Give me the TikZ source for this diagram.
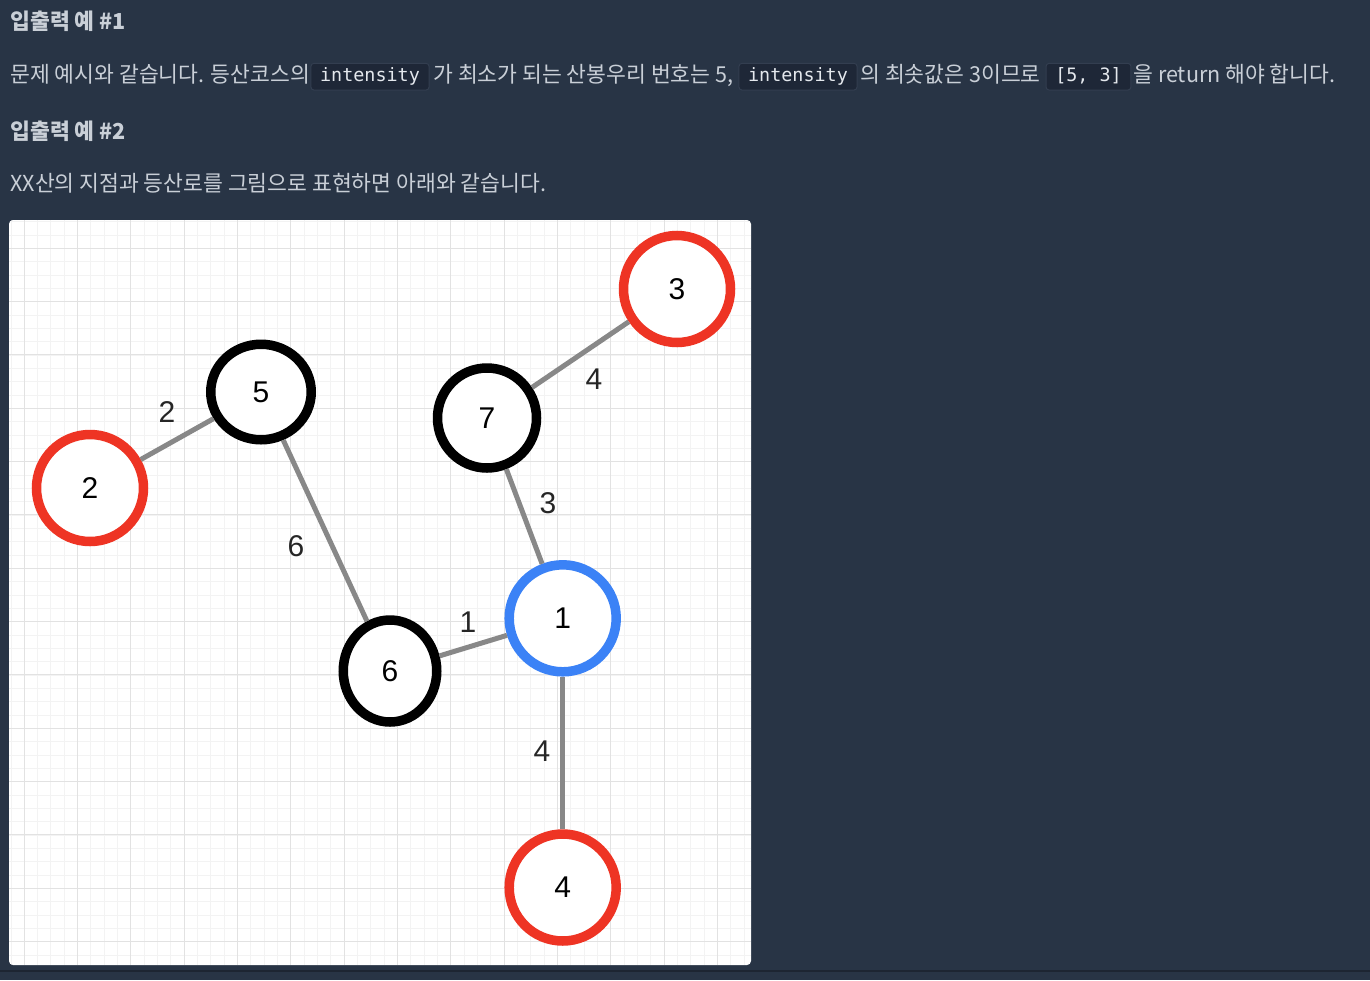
\documentclass[tikz,border=0pt]{standalone}
\usepackage{fontspec}
\setmainfont{Liberation Sans}
\newfontfamily\krfont[FakeStretch=0.98]{Noto Sans CJK KR}
\newfontfamily\codefont{DejaVu Sans Mono}
\usetikzlibrary{shapes.geometric}
\definecolor{pagebg}{HTML}{283445}
\definecolor{pageline}{HTML}{1D2532}
\definecolor{prosegray}{HTML}{C9CFD7}
\definecolor{codebg}{HTML}{1E2737}
\definecolor{codeline}{HTML}{333E50}
\definecolor{codetext}{HTML}{E4E8ED}
\definecolor{gridminor}{HTML}{F3F3F3}
\definecolor{gridmajor}{HTML}{E2E2E2}
\definecolor{trailgray}{HTML}{888888}
\definecolor{gatered}{HTML}{EE3424}
\definecolor{summitblue}{HTML}{3B82F6}
\tikzset{
    %Define style for text lines
    prose/.style={
           anchor=base west,
           inner sep=0pt,
           text=prosegray,
           font=\krfont\fontsize{11pt}{13pt}\selectfont},
    heading/.style={
           prose,
           font=\krfont\bfseries\fontsize{11pt}{13pt}\selectfont},
    codebox/.style={
           rectangle,
           rounded corners=1.5pt,
           fill=codebg, draw=codeline, line width=0.5pt,
           inner xsep=4.6pt, inner ysep=0pt,
           minimum height=13.35pt,
           text height=0.75em, text depth=0.25em,
           text=codetext,
           font=\codefont\fontsize{9.2pt}{11pt}\selectfont},
    %Define style for peaks
    peak/.style={
           ellipse,
           fill=white,
           draw=black, line width=4.75pt,
           minimum width=49pt,
           minimum height=49pt,
           inner sep=0pt,
           font=\fontsize{15pt}{18pt}\selectfont,
           text centered},
    gate/.style={
           peak,
           draw=gatered,
           minimum width=53.5pt,
           minimum height=53.5pt},
    summit/.style={
           peak,
           draw=summitblue,
           minimum width=53.5pt,
           minimum height=53.5pt},
    weight/.style={
           inner sep=0pt,
           text=black!85,
           font=\fontsize{15pt}{18pt}\selectfont},
    % Define trail style
    trail/.style={
           draw=trailgray,
           line width=2.5pt}
}
\begin{document}
\begin{tikzpicture}[x=0.5pt,y=-0.5pt]
\fill[pagebg] (0,0) rectangle (1370,980);
\useasboundingbox (0,0) rectangle (1370,980);
\draw[pageline, line width=1pt] (0,970.5) -- (1370,970.5);

 %text
\node[heading] (h1) at (10,29) {입출력 예 \#1};
\node[prose] (l1a) at (10,82) {문제 예시와 같습니다. 등산코스의};
\node[codebox] (c1) at (370,76.7) {intensity};
\node[prose] (l1b) at (433,82) {가 최소가 되는 산봉우리 번호는 5,};
\node[codebox] (c2) at (798,76.7) {intensity};
\node[prose] (l1c) at (860,82) {의 최솟값은 3이므로};
\node[codebox] (c3) at (1088.5,76.7) {[5, 3]};
\node[prose] (l1d) at (1133,82) {을 return 해야 합니다.};
\node[heading] (h2) at (10,139) {입출력 예 \#2};
\node[prose] (l3) at (10,191.5) {XX산의 지점과 등산로를 그림으로 표현하면 아래와 같습니다.};

 %panel and grid
\fill[white, rounded corners=2pt] (9,220) rectangle (751,965);
\begin{scope}
\clip[rounded corners=2pt] (9,220) rectangle (751,965);
\foreach \i in {0,...,56} {
  \draw[gridminor, line width=0.5pt] ({11+13.333*\i},220) -- ({11+13.333*\i},965);
  \draw[gridminor, line width=0.5pt] (9,{221.7+13.333*\i}) -- (751,{221.7+13.333*\i});
}
\foreach \i in {0,...,13} {
  \draw[gridmajor, line width=0.5pt] ({24.3+53.333*\i},220) -- ({24.3+53.333*\i},965);
  \draw[gridmajor, line width=0.5pt] (9,{248.3+53.333*\i}) -- (751,{248.3+53.333*\i});
}
\end{scope}

 %peaks
\node[gate] (3) at (677,289) {3};
\node[peak, minimum width=49.5pt, minimum height=50pt] (7) at (487,418) {7};
\node[peak, minimum width=50.25pt, minimum height=47.75pt] (5) at (261,392) {5};
\node[gate] (2) at (90,488) {2};
\node[peak, minimum width=46.75pt, minimum height=51pt] (6) at (390,671) {6};
\node[summit] (1) at (562.7,618.3) {1};
\node[gate] (4) at (562.7,887.5) {4};
\path[trail]
    (2) edge (5)
    (5) edge (6)
    (6) edge (1)
    (1) edge (7)
    (7) edge (3)
    (1) edge (4);

 %weights
\node[weight] (w25) at (167,412) {2};
\node[weight] (w56) at (296,546) {6};
\node[weight] (w73) at (594,379) {4};
\node[weight] (w17) at (548,503) {3};
\node[weight] (w61) at (468,622) {1};
\node[weight] (w14) at (542,751) {4};
\end{tikzpicture}
\end{document}
